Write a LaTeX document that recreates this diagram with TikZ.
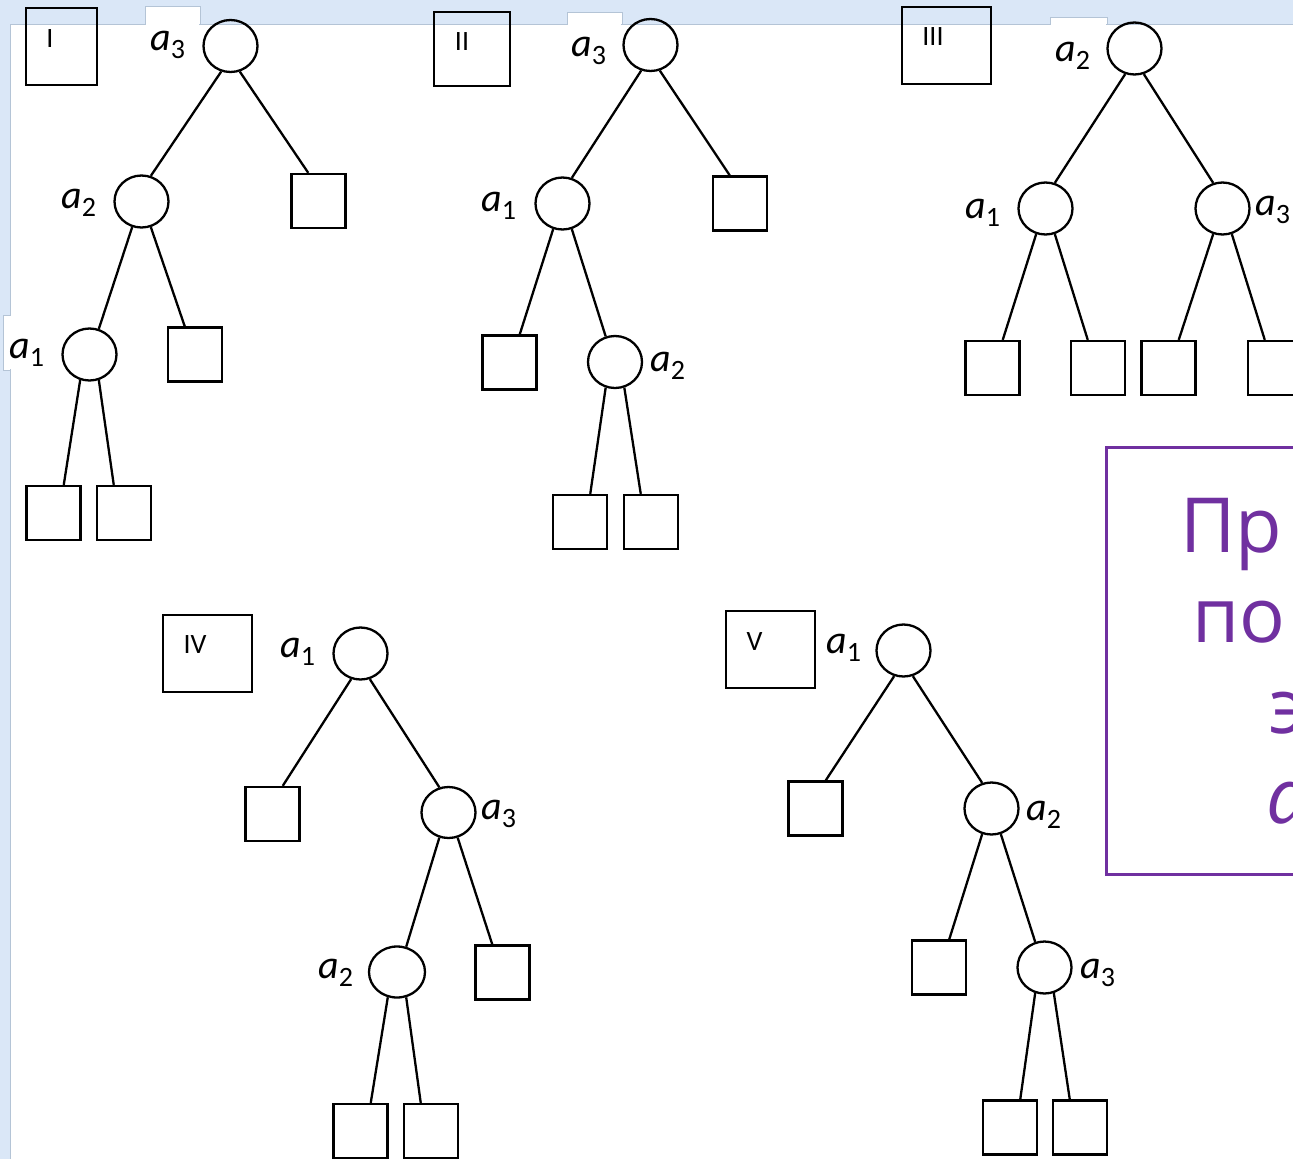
\documentclass[tikz,border=0pt]{standalone}
\usepackage{fontspec}
\setmainfont{Carlito}
\newfontfamily\purpfont{Open Sans}
\usetikzlibrary{shapes.geometric}
\definecolor{bgblue}{RGB}{218,231,247}
\definecolor{edgegray}{RGB}{180,196,214}
\definecolor{slidepurple}{RGB}{112,48,160}
\newcommand{\lbl}[1]{{\fontsize{40}{40}\selectfont\itshape a}\raisebox{-8pt}{\fontsize{28}{28}\selectfont #1}}
\tikzset{
  vert/.style={ellipse, draw, line width=2.3pt, minimum width=54pt, minimum height=52pt, inner sep=0pt},
  leaf/.style={rectangle, draw, line width=2.3pt, minimum width=54pt, minimum height=54pt, inner sep=0pt},
  tagbox/.style={rectangle, draw, line width=2.3pt, inner sep=0pt},
  tagtext/.style={anchor=base, inner sep=0pt, font=\fontsize{28}{28}\selectfont},
  lab/.style={anchor=base west, inner sep=0pt},
  edge/.style={line width=2.3pt},
  ptext/.style={anchor=base west, inner sep=0pt, text=slidepurple, font=\purpfont\fontsize{76}{76}\selectfont}
}
\begin{document}
\begin{tikzpicture}[x=1pt,y=-1pt]
\useasboundingbox (0,0) rectangle (1293,1159);
% slide background
\fill[bgblue] (0,0) rectangle (1293,1159);
\filldraw[fill=white, draw=edgegray, line width=0.8pt] (10,24) rectangle (1300,1170);
\filldraw[fill=white, draw=edgegray, line width=0.8pt] (145,24) -- (145,6) -- (200,6) -- (200,24);
\filldraw[fill=white, draw=edgegray, line width=0.8pt] (567,24) -- (567,12) -- (622,12) -- (622,24);
\filldraw[fill=white, draw=edgegray, line width=0.8pt] (1050,24) -- (1050,17) -- (1107,17) -- (1107,24);
\filldraw[fill=white, draw=edgegray, line width=0.8pt] (10,315) -- (3,315) -- (3,370) -- (10,370);
\fill[white] (11,25) rectangle (1293,1159);
\fill[white] (146,7) rectangle (199,26);
\fill[white] (568,13) rectangle (621,26);
\fill[white] (1051,18) rectangle (1106,26);
\fill[white] (4,316) rectangle (12,369);

% ---------- Tree I ----------
\node[tagbox, minimum width=71pt, minimum height=77pt] (tI) at (61.5,46.5) {};
\node[tagtext] (tIt) at (50,47) {I};
\node[vert] (Ir) at (230.5,46) {};
\node[vert] (In2) at (141.5,201.5) {};
\node[leaf] (Is1) at (318.5,201) {};
\node[vert] (In1) at (89.5,354.5) {};
\node[leaf] (Is2) at (195,354.5) {};
\node[leaf] (Is3) at (53.5,513) {};
\node[leaf] (Is4) at (124,513) {};
\node[lab] (Ila3) at (150,50) {\lbl{3}};
\node[lab] (Ila2) at (61,208) {\lbl{2}};
\node[lab] (Ila1) at (9,358) {\lbl{1}};
\draw[edge] (Ir.250) -- (In2.70);
\draw[edge] (Ir.290) -- (Is1.110);
\draw[edge] (In2.250) -- (In1.70);
\draw[edge] (In2.290) -- (Is2.110);
\draw[edge] (In1.250) -- (Is3.70);
\draw[edge] (In1.290) -- (Is4.110);

% ---------- Tree II ----------
\node[tagbox, minimum width=76pt, minimum height=74pt] (tII) at (472,49) {};
\node[tagtext] (tIIt) at (462,50) {II};
\node[vert] (IIr) at (650.5,45) {};
\node[vert] (IIn1) at (562.5,203.5) {};
\node[leaf] (IIs1) at (740,203.5) {};
\node[leaf] (IIs2) at (509.5,362.5) {};
\node[vert] (IIn2) at (615,362) {};
\node[leaf] (IIs3) at (580,522) {};
\node[leaf] (IIs4) at (651,522) {};
\node[lab] (IIla3) at (571,56) {\lbl{3}};
\node[lab] (IIla1) at (481,211) {\lbl{1}};
\node[lab] (IIla2) at (650,371) {\lbl{2}};
\draw[edge] (IIr.250) -- (IIn1.70);
\draw[edge] (IIr.290) -- (IIs1.110);
\draw[edge] (IIn1.250) -- (IIs2.70);
\draw[edge] (IIn1.290) -- (IIn2.110);
\draw[edge] (IIn2.250) -- (IIs3.70);
\draw[edge] (IIn2.290) -- (IIs4.110);

% ---------- Tree III ----------
\node[tagbox, minimum width=89pt, minimum height=77pt] (tIII) at (946.5,45.5) {};
\node[tagtext] (tIIIt) at (933,45) {III};
\node[vert] (IIIr) at (1134.5,48.5) {};
\node[vert] (IIIn1) at (1045.5,208.5) {};
\node[vert] (IIIn3) at (1222.5,208.5) {};
\node[leaf] (IIIs1) at (992.5,368) {};
\node[leaf] (IIIs2) at (1098,368) {};
\node[leaf] (IIIs3) at (1168.5,368) {};
\node[leaf] (IIIs4) at (1275,368) {};
\node[lab] (IIIla2) at (1055,61) {\lbl{2}};
\node[lab] (IIIla1) at (965,218) {\lbl{1}};
\node[lab] (IIIla3) at (1255,215) {\lbl{3}};
\draw[edge] (IIIr.250) -- (IIIn1.70);
\draw[edge] (IIIr.290) -- (IIIn3.110);
\draw[edge] (IIIn1.250) -- (IIIs1.70);
\draw[edge] (IIIn1.290) -- (IIIs2.110);
\draw[edge] (IIIn3.250) -- (IIIs3.70);
\draw[edge] (IIIn3.290) -- (IIIs4.110);

% ---------- Tree IV ----------
\node[tagbox, minimum width=89pt, minimum height=77pt] (tIV) at (207.5,653.5) {};
\node[tagtext] (tIVt) at (195,653.5) {IV};
\node[vert] (IVr) at (360.5,653.5) {};
\node[leaf] (IVs1) at (272.5,814) {};
\node[vert, minimum height=51pt] (IVn3) at (448.5,812.5) {};
\node[vert, minimum width=56pt, minimum height=51pt] (IVn2) at (397,972) {};
\node[leaf] (IVs2) at (502.5,972.5) {};
\node[leaf] (IVs3) at (360.5,1131) {};
\node[leaf] (IVs4) at (431,1131) {};
\node[lab] (IVla1) at (280,657) {\lbl{1}};
\node[lab] (IVla3) at (481,819) {\lbl{3}};
\node[lab] (IVla2) at (318,978) {\lbl{2}};
\draw[edge] (IVr.250) -- (IVs1.70);
\draw[edge] (IVr.290) -- (IVn3.110);
\draw[edge] (IVn3.250) -- (IVn2.70);
\draw[edge] (IVn3.290) -- (IVs2.110);
\draw[edge] (IVn2.250) -- (IVs3.70);
\draw[edge] (IVn2.290) -- (IVs4.110);

% ---------- Tree V ----------
\node[tagbox, minimum width=89pt, minimum height=77pt] (tV) at (770.5,649.5) {};
\node[tagtext] (tVt) at (754.5,650) {V};
\node[vert] (Vr) at (903.5,650.5) {};
\node[leaf] (Vs1) at (815.5,808.5) {};
\node[vert] (Vn2) at (991.5,808.5) {};
\node[leaf] (Vs2) at (939,967.5) {};
\node[vert] (Vn3) at (1044.5,967.5) {};
\node[leaf] (Vs3) at (1010,1127.5) {};
\node[leaf] (Vs4) at (1080,1127.5) {};
\node[lab] (Vla1) at (826,653) {\lbl{1}};
\node[lab] (Vla2) at (1026,820) {\lbl{2}};
\node[lab] (Vla3) at (1080,978) {\lbl{3}};
\draw[edge] (Vr.250) -- (Vs1.70);
\draw[edge] (Vr.290) -- (Vn2.110);
\draw[edge] (Vn2.250) -- (Vs2.70);
\draw[edge] (Vn2.290) -- (Vn3.110);
\draw[edge] (Vn3.250) -- (Vs3.70);
\draw[edge] (Vn3.290) -- (Vs4.110);

% ---------- purple text box (cut off at the right edge) ----------
\begin{scope}
\clip (0,0) rectangle (1293,1159);
\node[draw=slidepurple, line width=2.5pt, fill=white, minimum width=230pt, minimum height=427pt, inner sep=0pt, anchor=north west] (pbox) at (1105,446) {};
\node[ptext] (p1) at (1180,552) {Пр};
\node[ptext] (p2) at (1192,642) {по};
\node[ptext] (p3) at (1269,733) {э};
\node[ptext, font=\purpfont\itshape\fontsize{76}{76}\selectfont] (p4) at (1266,823) {a};
\end{scope}
\end{tikzpicture}
\end{document}
